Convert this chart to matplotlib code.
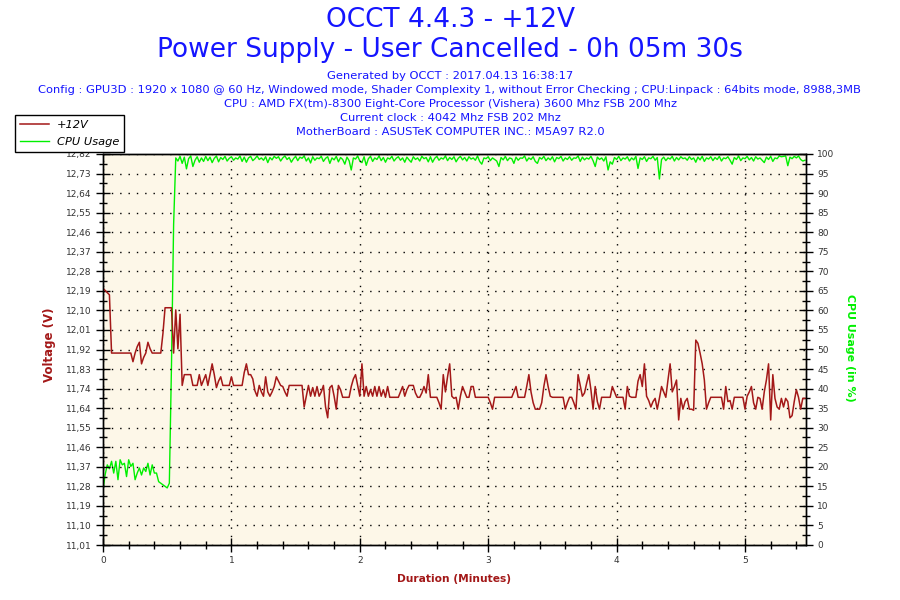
import numpy as np
import matplotlib
matplotlib.use('Agg')
import matplotlib.pyplot as plt
from matplotlib.ticker import FixedLocator, MultipleLocator

# header text
title_lines = ['OCCT 4.4.3 - +12V', 'Power Supply - User Cancelled - 0h 05m 30s']
info_lines = [
    'Generated by OCCT : 2017.04.13 16:38:17',
    'Config : GPU3D : 1920 x 1080 @ 60 Hz, Windowed mode, Shader Complexity 1, without Error Checking ; CPU:Linpack : 64bits mode, 8988,3MB',
    'CPU : AMD FX(tm)-8300 Eight-Core Processor (Vishera) 3600 Mhz FSB 200 Mhz',
    'Current clock : 4042 Mhz FSB 202 Mhz',
    'MotherBoard : ASUSTeK COMPUTER INC.: M5A97 R2.0',
]

# +12V readings, one per second
volts = [
    12.20, 12.19, 12.18, 12.17, 11.90, 11.90, 11.90, 11.90, 11.90, 11.90,
    11.90, 11.90, 11.90, 11.90, 11.86, 11.90, 11.93, 11.95, 11.85, 11.88,
    11.90, 11.95, 11.92, 11.90, 11.90, 11.90, 11.90, 11.90, 11.99, 12.11,
    12.11, 12.11, 12.11, 11.90, 12.10, 11.92, 12.08, 11.75, 11.80, 11.80,
    11.80, 11.80, 11.75, 11.75, 11.75, 11.80, 11.75, 11.775, 11.80, 11.75,
    11.80, 11.85, 11.80, 11.74, 11.77, 11.79, 11.75, 11.75, 11.75, 11.75,
    11.79, 11.75, 11.75, 11.75, 11.75, 11.75, 11.81, 11.85, 11.80, 11.80,
    11.78, 11.725, 11.70, 11.75, 11.72, 11.70, 11.79, 11.72, 11.70, 11.72,
    11.745, 11.79, 11.77, 11.75, 11.745, 11.72, 11.70, 11.75, 11.75, 11.75,
    11.75, 11.75, 11.75, 11.75, 11.65, 11.70, 11.75, 11.70, 11.74, 11.70,
    11.745, 11.70, 11.72, 11.75, 11.65, 11.60, 11.74, 11.75, 11.70, 11.64,
    11.75, 11.73, 11.695, 11.695, 11.695, 11.695, 11.745, 11.78, 11.80, 11.75,
    11.70, 11.85, 11.70, 11.745, 11.70, 11.73, 11.70, 11.745, 11.70, 11.745,
    11.70, 11.73, 11.695, 11.745, 11.695, 11.695, 11.695, 11.695, 11.695, 11.72,
    11.745, 11.70, 11.73, 11.75, 11.75, 11.75, 11.715, 11.695, 11.695, 11.715,
    11.745, 11.715, 11.80, 11.695, 11.695, 11.695, 11.695, 11.67, 11.64, 11.80,
    11.72, 11.79, 11.85, 11.70, 11.69, 11.695, 11.64, 11.70, 11.745, 11.72,
    11.695, 11.695, 11.745, 11.745, 11.695, 11.695, 11.695, 11.695, 11.695, 11.695,
    11.695, 11.67, 11.64, 11.695, 11.695, 11.695, 11.695, 11.695, 11.695, 11.695,
    11.695, 11.695, 11.72, 11.745, 11.695, 11.695, 11.695, 11.695, 11.745, 11.80,
    11.72, 11.67, 11.64, 11.64, 11.64, 11.67, 11.745, 11.80, 11.745, 11.70,
    11.695, 11.695, 11.695, 11.695, 11.695, 11.695, 11.64, 11.67, 11.695, 11.695,
    11.67, 11.64, 11.80, 11.75, 11.70, 11.715, 11.76, 11.80, 11.73, 11.64,
    11.745, 11.675, 11.64, 11.695, 11.695, 11.695, 11.695, 11.695, 11.745, 11.72,
    11.695, 11.695, 11.695, 11.695, 11.64, 11.745, 11.70, 11.695, 11.695, 11.695,
    11.77, 11.80, 11.745, 11.85, 11.70, 11.68, 11.65, 11.675, 11.69, 11.64,
    11.69, 11.745, 11.72, 11.695, 11.775, 11.85, 11.72, 11.745, 11.775, 11.59,
    11.69, 11.64, 11.675, 11.69, 11.64, 11.64, 11.635, 11.96, 11.945, 11.90,
    11.85, 11.775, 11.64, 11.67, 11.695, 11.695, 11.695, 11.695, 11.695, 11.695,
    11.64, 11.745, 11.675, 11.68, 11.64, 11.695, 11.695, 11.695, 11.695, 11.695,
    11.64, 11.70, 11.72, 11.745, 11.67, 11.64, 11.695, 11.69, 11.64, 11.72,
    11.775, 11.85, 11.59, 11.80, 11.69, 11.65, 11.64, 11.69, 11.65, 11.69,
    11.675, 11.60, 11.61, 11.675, 11.73, 11.695, 11.64, 11.69, 11.69,
]

# CPU usage in %, one per second
cpu_idle = [
    14.0, 18.0, 20.5, 19.5, 21.4, 18.4, 21.4, 16.7, 21.8, 20.5,
    20.9, 17.5, 21.8, 20.1, 20.9, 16.7, 18.4, 19.7, 17.9, 19.7,
    18.8, 20.9, 17.9, 20.5, 18.4, 18.4, 16.2, 15.8, 15.4, 15.0,
    14.6, 15.8, 46.0, 82.0,
]
cpu_load = [
    99.0, 98.2, 99.4, 97.6, 99.2, 96.2, 98.8, 99.5, 96.8, 98.4, 99.3, 97.9, 99.0, 98.1, 99.4,
    98.3, 99.2, 97.8, 98.9, 99.5, 98.0, 99.1, 98.6, 99.4, 98.2, 98.9, 99.3, 98.4, 99.0, 98.7,
    99.5, 98.1, 99.2, 97.9, 99.0, 99.4, 98.3, 98.8, 99.5, 98.6, 99.0, 98.4, 99.3, 97.8, 99.1,
    98.5, 99.4, 98.9, 99.3, 98.2, 99.0, 99.5, 98.6, 99.1, 97.9, 98.8, 99.4, 98.3, 99.2, 98.9,
    99.5, 98.2, 99.0, 97.7, 99.3, 98.4, 99.0, 98.8, 99.4, 98.1, 98.9, 99.3, 97.6, 99.0, 98.5,
    99.4, 98.0, 99.1, 98.6, 97.4, 99.2, 98.3, 95.9, 99.0, 98.7, 99.5, 98.2, 97.8, 99.3, 97.1,
    98.8, 99.4, 98.1, 99.0, 98.6, 99.5, 98.3, 99.1, 97.9, 99.0, 98.7, 99.4, 98.2, 98.9, 99.3,
    98.4, 99.0, 97.9, 99.2, 98.5, 97.9, 99.3, 98.6, 99.0, 98.2, 99.4, 98.8, 99.1, 98.0, 99.3,
    97.9, 98.9, 99.4, 98.4, 99.0, 98.7, 99.5, 98.3, 99.1, 98.6, 99.3, 98.0, 98.9, 99.4, 98.5,
    99.1, 98.2, 99.3, 98.7, 99.0, 98.4, 99.5, 98.1, 97.4, 99.0, 98.8, 99.3, 98.3, 99.0, 98.6,
    98.2, 96.8, 99.1, 98.5, 99.4, 98.3, 99.0, 98.8, 97.6, 99.2, 98.4, 99.0, 98.9, 99.5, 98.2,
    99.0, 98.6, 99.3, 98.1, 97.6, 99.1, 98.7, 99.4, 98.3, 99.0, 98.5, 99.3, 98.0, 99.1, 98.8,
    99.4, 98.2, 99.0, 98.6, 99.3, 98.4, 99.0, 98.9, 99.5, 98.1, 99.2, 98.5, 99.0, 98.7, 99.4,
    98.3, 96.8, 99.2, 98.6, 99.0, 98.2, 99.3, 95.9, 98.0, 97.4, 99.1, 98.6, 99.4, 98.3, 99.0,
    98.7, 99.3, 98.2, 99.0, 98.5, 99.4, 96.3, 99.0, 98.6, 99.3, 98.1, 99.0, 98.8, 99.4, 98.4,
    99.1, 93.6, 98.6, 99.2, 98.3, 99.0, 98.7, 99.4, 98.2, 99.1, 98.5, 99.3, 98.8, 99.0, 98.4,
    99.3, 98.6, 99.0, 97.9, 99.2, 98.5, 99.4, 98.1, 99.0, 98.7, 99.3, 98.3, 99.1, 98.6, 99.4,
    98.2, 99.0, 98.8, 99.3, 98.4, 97.4, 99.1, 98.6, 99.5, 98.3, 99.0, 98.8, 99.4, 98.5, 99.1,
    98.2, 99.3, 98.7, 99.0, 98.4, 97.8, 99.2, 98.6, 99.4, 98.1, 99.0, 98.8, 99.5, 99.3, 99.4,
    99.5, 97.0, 99.2, 98.8, 99.4, 99.0, 99.5, 98.6, 98.2, 98.4,
]
cpu = cpu_idle + cpu_load

volt_min, volt_max = 11.0105, 12.8225
volt_ticklabels = ['11,01', '11,10', '11,19', '11,28', '11,37', '11,46', '11,55',
                   '11,64', '11,74', '11,83', '11,92', '12,01', '12,10', '12,19',
                   '12,28', '12,37', '12,46', '12,55', '12,64', '12,73', '12,82']
minutes_max = 5.475

t_volt = np.arange(len(volts)) / 60.0
t_cpu = np.arange(len(cpu)) / 60.0

red = '#A31818'
green = '#00F000'
blue = '#1515FF'

fig = plt.figure(figsize=(9, 6), dpi=100)
fig.patch.set_facecolor('white')

box = [103 / 900, 55 / 600, 703 / 900, 391 / 600]
ax = fig.add_axes(box)
ax2 = ax.twinx()

l2, = ax2.plot(t_cpu, cpu, color=green, lw=1.0)
l1, = ax.plot(t_volt, volts, color=red, lw=1.1)
# voltage on top, cream background behind both
ax.set_zorder(ax2.get_zorder() + 1)
ax.patch.set_visible(False)
ax2.patch.set_visible(False)
fig.patches.append(plt.Rectangle((box[0], box[1]), box[2], box[3],
                                 transform=fig.transFigure, facecolor='#FDF7E8',
                                 edgecolor='none', zorder=-10))

ax.set_xlim(0, minutes_max)
ax.set_ylim(volt_min, volt_max)
ax2.set_ylim(0, 100)

vt = np.linspace(volt_min, volt_max, 21)
ax.yaxis.set_major_locator(FixedLocator(vt))
ax.set_yticklabels(volt_ticklabels)
ax.yaxis.set_minor_locator(FixedLocator((vt[:-1] + vt[1:]) / 2))
ax.xaxis.set_major_locator(MultipleLocator(1))
ax.xaxis.set_minor_locator(MultipleLocator(0.2))
ax2.yaxis.set_major_locator(MultipleLocator(5))
ax2.yaxis.set_minor_locator(MultipleLocator(2.5))

for a in (ax, ax2):
    a.tick_params(which='major', direction='inout', length=10, width=1,
                  labelsize=6.5, labelcolor='#333333', pad=3)
    a.tick_params(which='minor', direction='inout', length=6, width=1)
    for s in a.spines.values():
        s.set_color('black')
        s.set_linewidth(1)

ax.grid(True, which='major', color='black', linestyle=(0, (1, 5)), linewidth=1)

fig.text(0.5, 1 - 20 / 600, title_lines[0], ha='center', va='center', fontsize=19, color=blue)
fig.text(0.5, 1 - 50 / 600, title_lines[1], ha='center', va='center', fontsize=19, color=blue)
for k, line in enumerate(info_lines):
    fig.text(0.5, 1 - (76 + 13.9 * k) / 600, line, ha='center', va='center',
             fontsize=8.25, color=blue)

fig.text(50 / 900, 1 - 345 / 600, 'Voltage (V)', rotation=90, ha='center', va='center',
         fontsize=8.5, fontweight='bold', color=red)
fig.text(850 / 900, 1 - 348 / 600, 'CPU Usage (in %)', rotation=270, ha='center', va='center',
         fontsize=7.9, fontweight='bold', color=green)
fig.text(454 / 900, 1 - 579 / 600, 'Duration (Minutes)', ha='center', va='center',
         fontsize=7.7, fontweight='bold', color=red)

leg = fig.legend([l1, l2], ['+12V', 'CPU Usage'], loc='upper left',
                 bbox_to_anchor=(15 / 900, 1 - 115 / 600), borderaxespad=0,
                 fancybox=False, framealpha=1, edgecolor='black',
                 prop={'size': 8.2, 'style': 'italic'}, handlelength=2.5,
                 handletextpad=0.7, borderpad=0.45, labelspacing=0.6)
leg.get_frame().set_linewidth(1)

fig.savefig('out.png', dpi=100)
